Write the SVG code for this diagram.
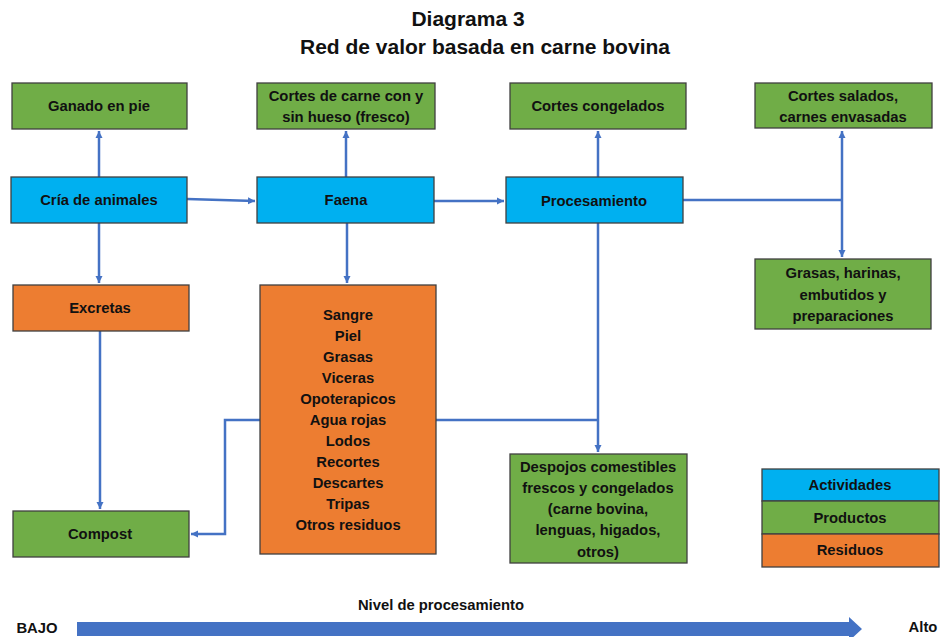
<svg xmlns="http://www.w3.org/2000/svg" width="940" height="637" viewBox="0 0 940 637">
<defs>
<marker id="ah" markerWidth="8" markerHeight="8" refX="7" refY="4" orient="auto" markerUnits="userSpaceOnUse">
<path d="M0,0.5 L7,4 L0,7.5 Z" fill="#4472C4"/>
</marker>
</defs>
<style>
text{font-family:"Liberation Sans",Arial,sans-serif;font-weight:bold;fill:#111;text-anchor:middle;dominant-baseline:central}
.t{font-size:14.8px}
.title{font-size:21px}
.b rect{stroke:#404040;stroke-width:1.3}
.act{fill:#00B0F0}
.prod{fill:#70AD47}
.res{fill:#ED7D31}
.c{fill:none;stroke:#4472C4;stroke-width:2.5}
</style>
<rect width="940" height="637" fill="#fff"/>
<text class="title" x="468" y="18">Diagrama 3</text>
<text class="title" x="485" y="46">Red de valor basada en carne bovina</text>

<g id="connectors">
<path class="c" d="M99,177 V131" marker-end="url(#ah)"/>
<path class="c" d="M346,177 V131" marker-end="url(#ah)"/>
<path class="c" d="M598,177 V131" marker-end="url(#ah)"/>
<path class="c" d="M683,200 H842"/>
<path class="c" d="M842,200 V131" marker-end="url(#ah)"/>
<path class="c" d="M842,200 V257" marker-end="url(#ah)"/>
<path class="c" d="M187,199 L255,201" marker-end="url(#ah)"/>
<path class="c" d="M434,201 H504" marker-end="url(#ah)"/>
<path class="c" d="M99,223 V283" marker-end="url(#ah)"/>
<path class="c" d="M347,223 V283" marker-end="url(#ah)"/>
<path class="c" d="M100,331 V509" marker-end="url(#ah)"/>
<path class="c" d="M260,420 H225 V534 H191" marker-end="url(#ah)"/>
<path class="c" d="M436,420 H598"/>
<path class="c" d="M598,223 V452" marker-end="url(#ah)"/>
</g>

<g id="ganado" class="b"><rect class="prod" x="12" y="83" width="175" height="46"/><text class="t" x="99" y="106">Ganado en pie</text></g>
<g id="cortes-carne" class="b"><rect class="prod" x="257" y="83" width="178" height="46"/><text class="t" x="346" y="96">Cortes de carne con y</text><text class="t" x="346" y="117">sin hueso (fresco)</text></g>
<g id="cortes-congelados" class="b"><rect class="prod" x="510" y="83" width="176" height="46"/><text class="t" x="598" y="106">Cortes congelados</text></g>
<g id="cortes-salados" class="b"><rect class="prod" x="755" y="83" width="177" height="45"/><text class="t" x="843" y="96">Cortes salados,</text><text class="t" x="843" y="117">carnes envasadas</text></g>

<g id="cria" class="b"><rect class="act" x="11" y="177" width="176" height="46"/><text class="t" x="99" y="200">Cría de animales</text></g>
<g id="faena" class="b"><rect class="act" x="257" y="177" width="177" height="46"/><text class="t" x="346" y="200">Faena</text></g>
<g id="procesamiento" class="b"><rect class="act" x="506" y="177" width="177" height="46"/><text class="t" x="594" y="201">Procesamiento</text></g>

<g id="excretas" class="b"><rect class="res" x="13" y="285" width="176" height="46"/><text class="t" x="100" y="308">Excretas</text></g>
<g id="residuos-faena" class="b"><rect class="res" x="260" y="285" width="176" height="269"/>
<text class="t" x="348" y="315">Sangre</text>
<text class="t" x="348" y="336">Piel</text>
<text class="t" x="348" y="357">Grasas</text>
<text class="t" x="348" y="378">Viceras</text>
<text class="t" x="348" y="399">Opoterapicos</text>
<text class="t" x="348" y="420">Agua rojas</text>
<text class="t" x="348" y="441">Lodos</text>
<text class="t" x="348" y="462">Recortes</text>
<text class="t" x="348" y="483">Descartes</text>
<text class="t" x="348" y="504">Tripas</text>
<text class="t" x="348" y="525">Otros residuos</text>
</g>
<g id="grasas" class="b"><rect class="prod" x="755" y="259" width="176" height="70"/><text class="t" x="843" y="273">Grasas, harinas,</text><text class="t" x="843" y="295">embutidos y</text><text class="t" x="843" y="316">preparaciones</text></g>
<g id="compost" class="b"><rect class="prod" x="13" y="511" width="176" height="46"/><text class="t" x="100" y="534">Compost</text></g>
<g id="despojos" class="b"><rect class="prod" x="510" y="454" width="177" height="109"/>
<text class="t" x="598" y="467">Despojos comestibles</text>
<text class="t" x="598" y="488">frescos y congelados</text>
<text class="t" x="598" y="509">(carne bovina,</text>
<text class="t" x="598" y="530">lenguas, higados,</text>
<text class="t" x="598" y="552">otros)</text>
</g>

<g id="legend" class="b">
<rect class="act" x="762" y="469" width="177" height="32"/><text class="t" x="850" y="485">Actividades</text>
<rect class="prod" x="762" y="501" width="177" height="33"/><text class="t" x="850" y="518">Productos</text>
<rect class="res" x="762" y="534" width="177" height="33"/><text class="t" x="850" y="550">Residuos</text>
</g>

<g id="escala">
<text class="t" x="441" y="605">Nivel de procesamiento</text>
<text class="t" x="37" y="628">BAJO</text>
<text class="t" x="923" y="627">Alto</text>
<path d="M77,622 H849 V617 L862,629 L849,641 V636 H77 Z" fill="#4472C4"/>
</g>
</svg>
